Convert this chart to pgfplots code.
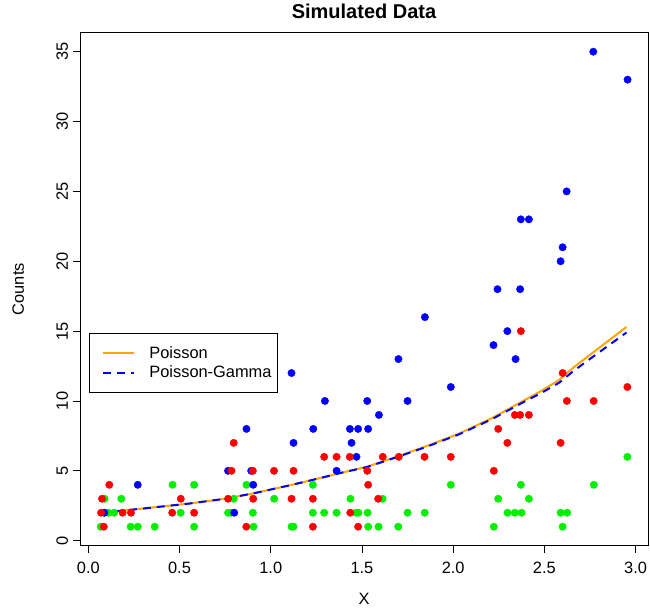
\documentclass[border=0pt]{standalone}
\usepackage{fontspec}
\setmainfont{Liberation Sans}
\usepackage{pgfplots}
\pgfplotsset{compat=1.18}
\definecolor{pgreen}{RGB}{0,240,0}
\definecolor{pred}{RGB}{255,0,0}
\definecolor{pblue}{RGB}{0,0,255}
\definecolor{porange}{RGB}{255,165,0}
\newcommand{\basefont}{\fontsize{16.4}{19.7}\selectfont}
\begin{document}
\begin{tikzpicture}
\begin{axis}[
  at={(80pt,64.3pt)}, anchor=south west,
  width=568pt, height=513pt, scale only axis,
  xmin=-0.0455, xmax=3.068, ymin=-0.36, ymax=36.36,
  axis line style={line width=0.8pt, black},
  xtick={0,0.5,1,1.5,2,2.5,3},
  xticklabels={0.0,0.5,1.0,1.5,2.0,2.5,3.0},
  ytick={0,5,10,15,20,25,30,35},
  yticklabels={0,5,10,15,20,25,30,35},
  xtick pos=left, ytick pos=left,
  tick align=outside, major tick length=7pt,
  tick style={line width=0.8pt, black},
  tick label style={font=\basefont},
  xticklabel style={anchor=base, yshift=-20.3pt},
  yticklabel style={xshift=-5pt, rotate=90, anchor=base},
  label style={font=\basefont},
  xlabel={X},
  xlabel style={at={(axis description cs:0.5,0)}, anchor=base, yshift=-58.5pt},
  ylabel={Counts},
  ylabel style={at={([xshift=-56pt]axis description cs:0,0.5)}, anchor=base},
  title={Simulated Data},
  title style={at={(axis description cs:0.5,1)}, anchor=base, yshift=7.7pt, font=\fontsize{20}{24}\selectfont\bfseries},
  legend style={at={(axis description cs:0.01585,0.4146)}, anchor=north west,
    draw=black, line width=0.8pt, fill=white, font=\basefont,
    inner xsep=6pt, inner ysep=9.6pt, row sep=0pt, column sep=0pt,
    nodes={inner sep=0pt, text height=15pt, text depth=4.7pt},
    /tikz/every odd column/.append style={column sep=14pt}},
  legend cell align=left,
  legend image code/.code={\path (0pt,0pt); \draw[#1] (7pt,0pt) -- (38pt,0pt);},
]
% green points
\addplot[only marks, mark=*, mark size=3.7pt, color=pgreen, forget plot] coordinates {
(0.068,1) (0.232,1) (0.271,1) (0.364,1) (0.580,1) (0.906,1) (1.114,1) (1.125,1) (1.534,1) (1.591,1) (1.699,1) (2.223,1) (2.600,1)
(0.088,2) (0.110,2) (0.142,2) (0.506,2) (0.766,2) (0.783,2) (0.902,2) (1.231,2) (1.293,2) (1.361,2) (1.468,2) (1.481,2) (1.531,2) (1.750,2) (1.844,2) (2.298,2) (2.338,2) (2.375,2) (2.589,2) (2.625,2)
(0.089,3) (0.181,3) (0.797,3) (1.019,3) (1.437,3) (1.613,3) (2.247,3) (2.415,3)
(0.462,4) (0.580,4) (0.867,4) (1.231,4) (1.987,4) (2.371,4) (2.771,4)
(2.955,6)
};
% blue points
\addplot[only marks, mark=*, mark size=3.7pt, color=pblue, forget plot] coordinates {
(0.088,2) (0.800,2)
(0.271,4) (0.904,4)
(0.766,5) (0.893,5) (1.361,5)
(1.470,6)
(1.125,7) (1.443,7)
(0.867,8) (1.233,8) (1.434,8) (1.479,8) (1.534,8)
(1.593,9)
(1.297,10) (1.529,10) (1.750,10)
(1.987,11)
(1.114,12)
(1.700,13) (2.342,13)
(2.221,14)
(2.297,15)
(1.845,16)
(2.243,18) (2.367,18)
(2.589,20)
(2.600,21)
(2.371,23) (2.415,23)
(2.622,25)
(2.956,33)
(2.768,35)
};
% red points
\addplot[only marks, mark=*, mark size=3.7pt, color=pred, forget plot] coordinates {
(0.085,1) (0.866,1) (1.231,1) (1.479,1)
(0.070,2) (0.188,2) (0.234,2) (0.460,2) (0.580,2) (1.436,2)
(0.075,3) (0.507,3) (0.766,3) (0.904,3) (1.114,3) (1.231,3) (1.589,3)
(0.115,4) (1.534,4)
(0.785,5) (0.902,5) (1.018,5) (1.125,5) (1.529,5) (2.223,5)
(1.293,6) (1.361,6) (1.433,6) (1.614,6) (1.702,6) (1.843,6) (1.987,6)
(0.797,7) (2.297,7) (2.589,7)
(2.247,8)
(2.338,9) (2.367,9) (2.415,9)
(2.623,10) (2.770,10)
(2.955,11)
(2.600,12)
(2.371,15)
};
% fitted curves
\addplot[porange, line width=2pt] coordinates {
(0.07,2.0) (0.30,2.3) (0.55,2.65) (0.75,3.0) (0.91,3.4) (1.10,3.95) (1.23,4.35) (1.40,4.9) (1.53,5.3) (1.70,6.05) (1.85,6.75) (2.03,7.65) (2.21,8.75) (2.39,10.05) (2.48,10.7) (2.58,11.5) (2.66,12.4) (2.77,13.5) (2.95,15.3)
};
\addlegendentry{Poisson}
\addplot[pblue, line width=2pt, dash pattern=on 8pt off 6pt] coordinates {
(0.07,2.0) (0.30,2.3) (0.55,2.65) (0.75,3.0) (0.91,3.4) (1.10,3.95) (1.23,4.35) (1.40,4.9) (1.53,5.28) (1.70,6.02) (1.85,6.7) (2.03,7.6) (2.21,8.68) (2.39,9.95) (2.48,10.55) (2.58,11.3) (2.66,12.15) (2.77,13.2) (2.95,14.9)
};
\addlegendentry{Poisson-Gamma}
\end{axis}
\pgfresetboundingbox
\path (0pt,0pt) rectangle (650pt,610pt);
\end{tikzpicture}
\end{document}
